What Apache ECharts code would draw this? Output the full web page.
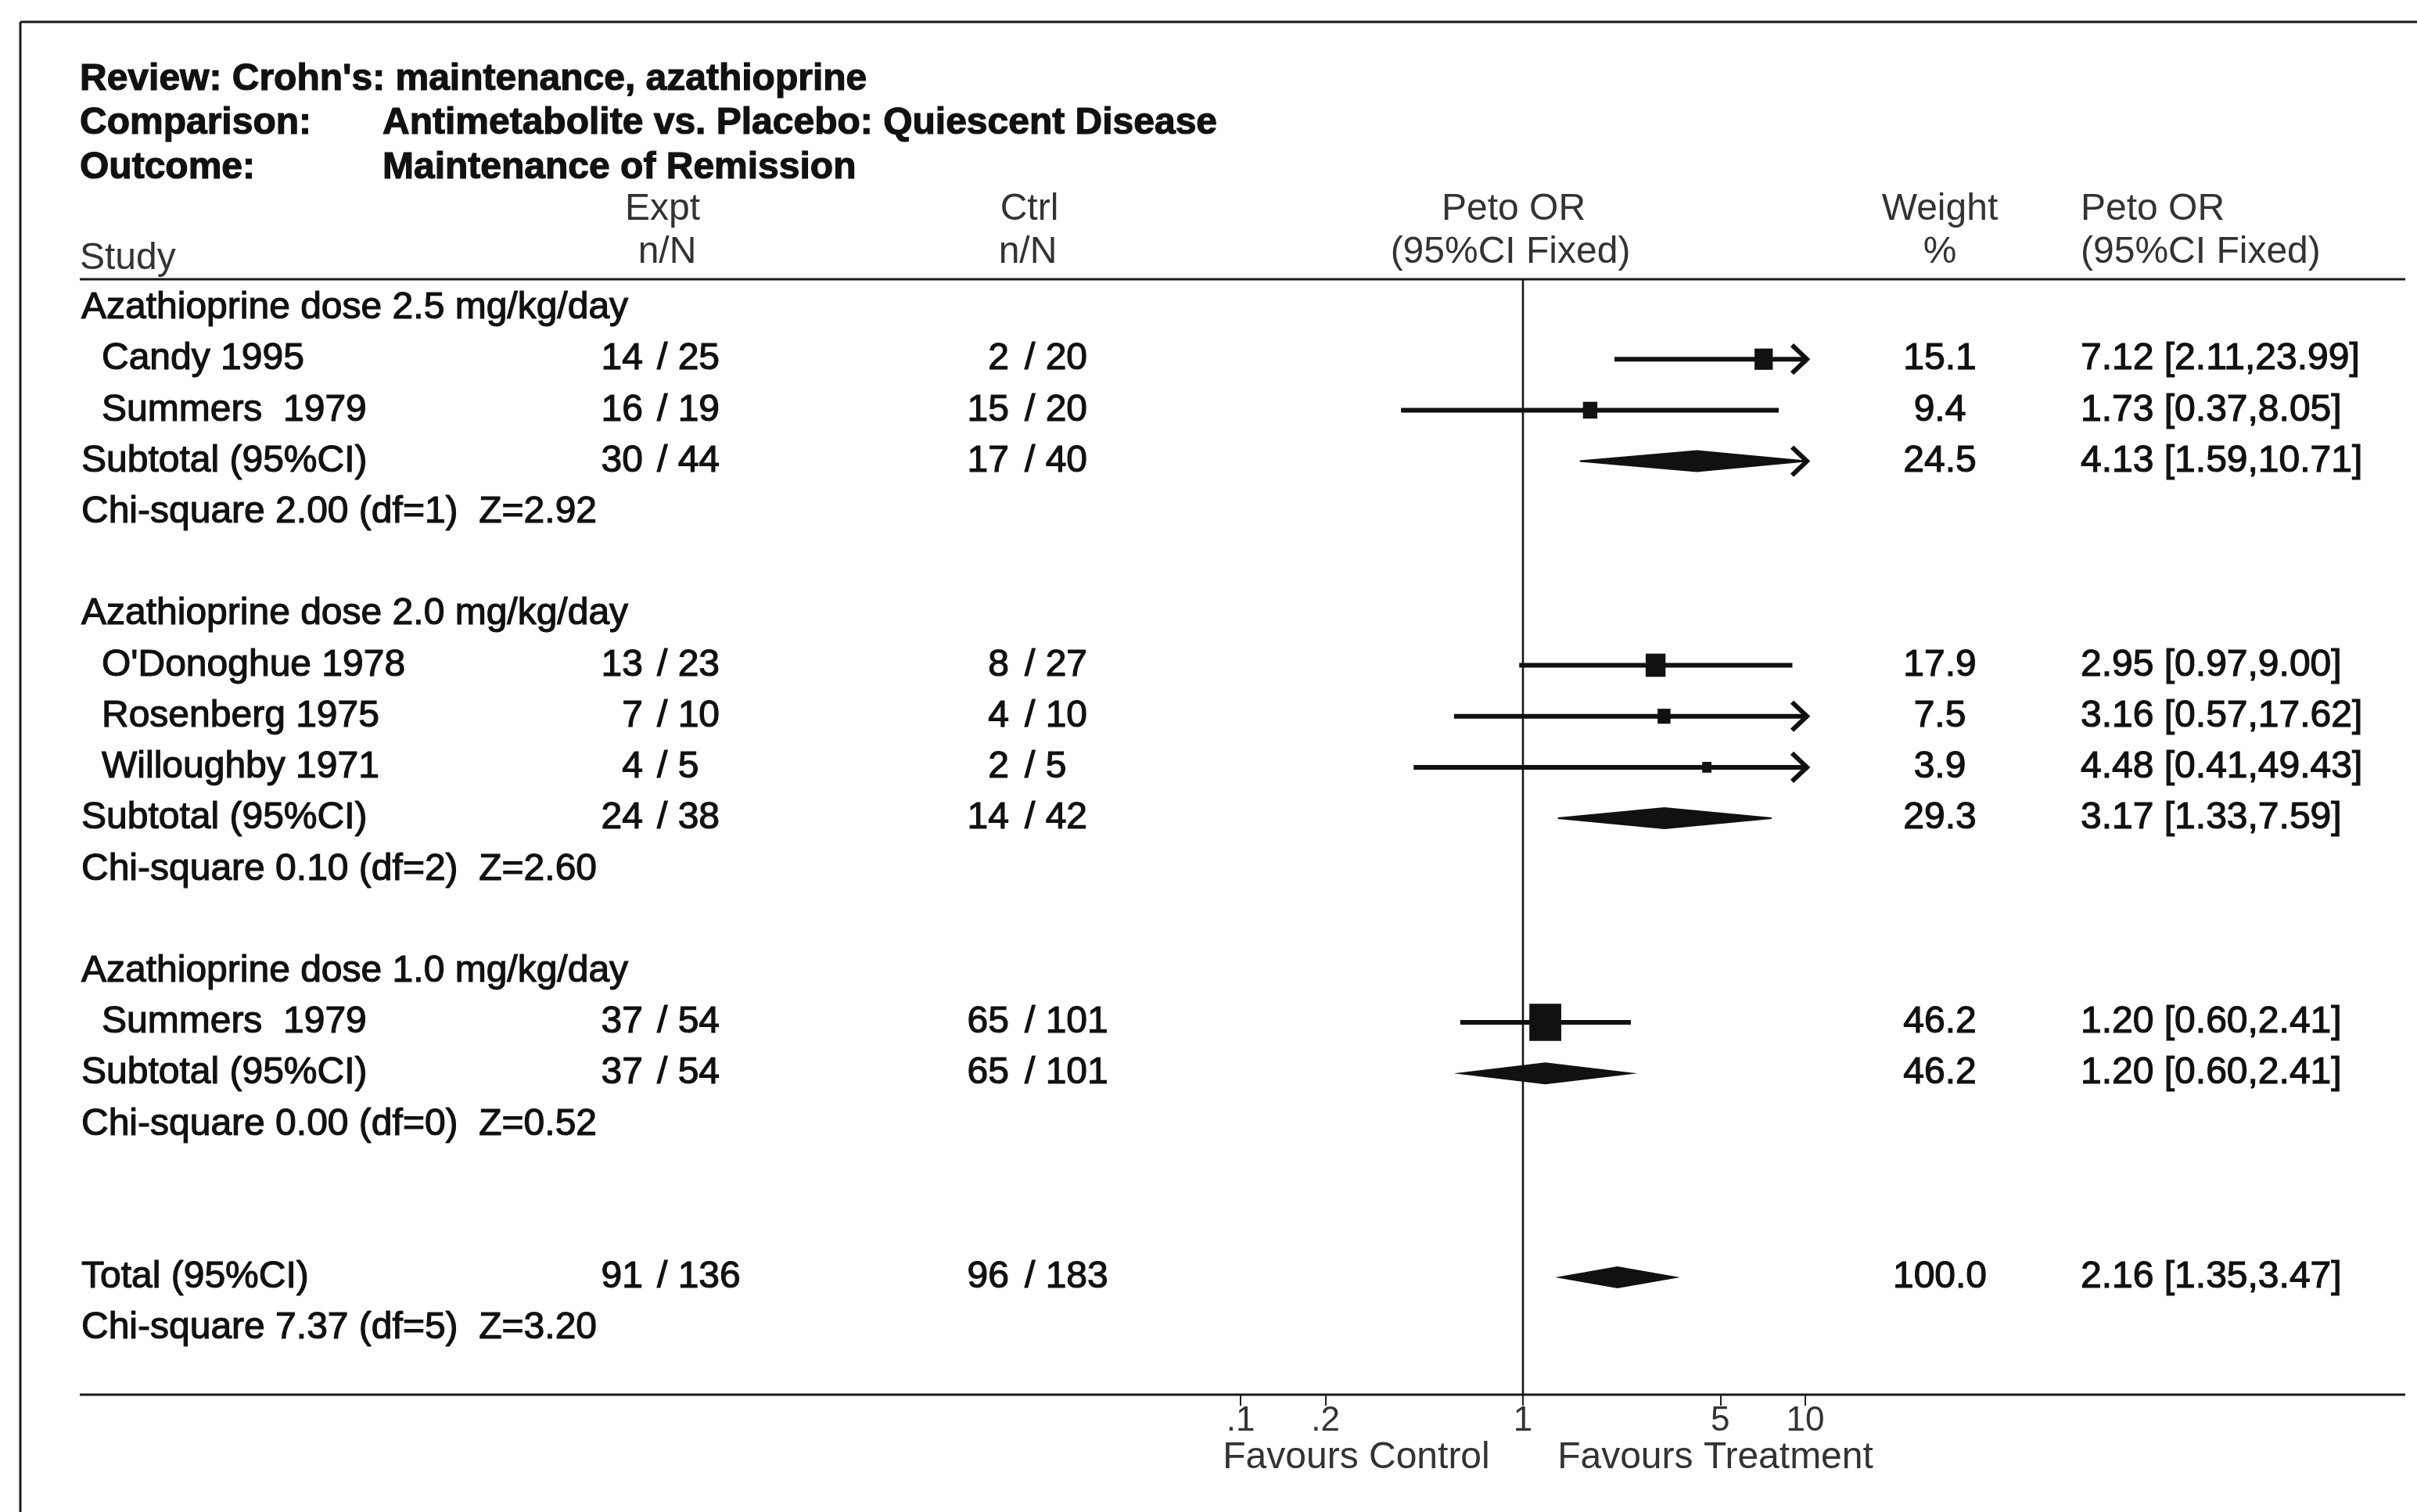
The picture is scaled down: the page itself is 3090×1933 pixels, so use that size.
<!DOCTYPE html>
<html>
<head>
<meta charset="utf-8">
<title>Crohn's: maintenance, azathioprine</title>
<script src="https://cdn.jsdelivr.net/npm/echarts@6/dist/echarts.min.js"></script>
<style>
  html, body { margin: 0; padding: 0; background: #fff; }
  #chart { width: 3090px; height: 1933px; }
</style>
</head>
<body>
<div id="chart"></div>
<script>
// rows of the table, top to bottom ('' = blank row)
const studyNames = [
  'Azathioprine dose 2.5 mg/kg/day', 'Candy 1995', 'Summers  1979', 'Subtotal (95%CI)', 'Chi-square 2.00 (df=1)  Z=2.92', '',
  'Azathioprine dose 2.0 mg/kg/day', "O'Donoghue 1978", 'Rosenberg 1975', 'Willoughby 1971', 'Subtotal (95%CI)', 'Chi-square 0.10 (df=2)  Z=2.60', '',
  'Azathioprine dose 1.0 mg/kg/day', 'Summers  1979', 'Subtotal (95%CI)', 'Chi-square 0.00 (df=0)  Z=0.52', '', '',
  'Total (95%CI)', 'Chi-square 7.37 (df=5)  Z=3.20'
];
const rowKinds = [
  'group', 'study', 'study', 'sub', 'stat', '',
  'group', 'study', 'study', 'study', 'sub', 'stat', '',
  'group', 'study', 'sub', 'stat', '', '',
  'sub', 'stat'
];
const exptEvents = [null, 14, 16, 30, null, null, null, 13, 7, 4, 24, null, null, null, 37, 37, null, null, null, 91, null];
const exptTotal  = [null, 25, 19, 44, null, null, null, 23, 10, 5, 38, null, null, null, 54, 54, null, null, null, 136, null];
const ctrlEvents = [null, 2, 15, 17, null, null, null, 8, 4, 2, 14, null, null, null, 65, 65, null, null, null, 96, null];
const ctrlTotal  = [null, 20, 20, 40, null, null, null, 27, 10, 5, 42, null, null, null, 101, 101, null, null, null, 183, null];
const weights    = [null, 15.1, 9.4, 24.5, null, null, null, 17.9, 7.5, 3.9, 29.3, null, null, null, 46.2, 46.2, null, null, null, 100.0, null];
const orPoint    = [null, 7.12, 1.73, 4.13, null, null, null, 2.95, 3.16, 4.48, 3.17, null, null, null, 1.20, 1.20, null, null, null, 2.16, null];
const orLow      = [null, 2.11, 0.37, 1.59, null, null, null, 0.97, 0.57, 0.41, 1.33, null, null, null, 0.60, 0.60, null, null, null, 1.35, null];
const orHigh     = [null, 23.99, 8.05, 10.71, null, null, null, 9.00, 17.62, 49.43, 7.59, null, null, null, 2.41, 2.41, null, null, null, 3.47, null];

// odds ratio axis (log scale)
const tickValues = [0.1, 0.2, 1, 5, 10];
const tickLabels = ['.1', '.2', '1', '5', '10'];

const FONT = 'Liberation Sans, Arial, Helvetica, sans-serif';
const INK = '#111';
const LMIN = Math.log10(tickValues[0]);
const LMAX = Math.log10(tickValues[tickValues.length - 1]);
const ROW_MIN = -0.567, ROW_MAX = 21.3;

const tableData = studyNames.map((_, i) => [0, i]);
const forestData = [];
orPoint.forEach((v, i) => {
  if (v == null) return;
  forestData.push([Math.log10(v), i, Math.log10(orLow[i]), Math.log10(orHigh[i]), weights[i], rowKinds[i] === 'study' ? 0 : 1]);
});

function txt(x, y, s, align) {
  return {
    type: 'text', x: x, y: y,
    style: {text: s, align: align, verticalAlign: 'middle', fontSize: 48, fontFamily: FONT, fill: INK,
      stroke: INK, lineWidth: 1.2}
  };
}

function renderRow(params, api) {
  const i = api.value(1);
  const y = api.coord([0, i])[1];
  const kind = rowKinds[i];
  const kids = [];
  if (studyNames[i]) kids.push(txt(kind === 'study' ? 130 : 104, y, studyNames[i], 'left'));
  if (exptEvents[i] != null) {
    kids.push(txt(822, y, String(exptEvents[i]), 'right'));
    kids.push(txt(840, y, '/ ' + exptTotal[i], 'left'));
    kids.push(txt(1290, y, String(ctrlEvents[i]), 'right'));
    kids.push(txt(1310, y, '/ ' + ctrlTotal[i], 'left'));
  }
  if (weights[i] != null) {
    kids.push(txt(2480, y, weights[i].toFixed(1), 'center'));
    kids.push(txt(2660, y, orPoint[i].toFixed(2) + ' [' + orLow[i].toFixed(2) + ',' + orHigh[i].toFixed(2) + ']', 'left'));
  }
  return {type: 'group', children: kids};
}

function renderForest(params, api) {
  const row = api.value(1);
  const p = api.coord([api.value(0), row]);
  const lo = api.coord([Math.max(api.value(2), LMIN), row]);
  const hi = api.coord([Math.min(api.value(3), LMAX), row]);
  const w = api.value(4);
  const kids = [];
  if (api.value(5) === 1) {
    const hh = 13;
    kids.push({
      type: 'polygon',
      shape: {points: [[lo[0], p[1]], [p[0], p[1] - hh], [hi[0], p[1]], [p[0], p[1] + hh]]},
      style: {fill: INK, stroke: INK, lineWidth: 2}
    });
  } else {
    kids.push({type: 'line', shape: {x1: lo[0], y1: p[1], x2: hi[0], y2: p[1]}, style: {stroke: INK, lineWidth: 6}});
    const bw = 6 * Math.sqrt(w), bh = 7 * Math.sqrt(w);
    kids.push({type: 'rect', shape: {x: p[0] - bw / 2, y: p[1] - bh / 2, width: bw, height: bh}, style: {fill: INK}});
  }
  if (api.value(3) > LMAX) {
    kids.push({
      type: 'polyline',
      shape: {points: [[hi[0] - 17, p[1] - 18], [hi[0] + 2, p[1]], [hi[0] - 17, p[1] + 18]]},
      style: {stroke: INK, lineWidth: 6, fill: null}
    });
  }
  return {type: 'group', children: kids};
}

function renderRef(params, api) {
  const a = api.coord([0, ROW_MIN]);
  const b = api.coord([0, ROW_MAX]);
  return {type: 'line', shape: {x1: a[0], y1: a[1], x2: b[0], y2: b[1]}, style: {stroke: INK, lineWidth: 2.5}};
}

function headText(x, y, s, align, bold) {
  return {
    type: 'text', x: x, y: y,
    style: {text: s, align: align, verticalAlign: 'middle', fontSize: 48, fontFamily: FONT,
      fontWeight: bold ? 'bold' : 'normal', fill: bold ? INK : '#333',
      stroke: bold ? INK : null, lineWidth: bold ? 1.2 : 0}
  };
}
function rule(x1, y1, x2, y2, lw) {
  return {type: 'line', shape: {x1: x1, y1: y1, x2: x2, y2: y2}, style: {stroke: '#1a1a1a', lineWidth: lw}};
}

const chart = echarts.init(document.getElementById('chart'));
chart.setOption({
  backgroundColor: '#fff',
  animation: false,
  grid: {left: 1586, width: 722, top: 357, height: 1426},
  xAxis: {
    type: 'value', min: LMIN, max: LMAX, position: 'bottom',
    axisLine: {show: false, onZero: false},
    splitLine: {show: false},
    axisTick: {show: true, customValues: tickValues.map(Math.log10), length: 14, lineStyle: {color: '#222', width: 2}},
    axisLabel: {
      customValues: tickValues.map(Math.log10), margin: 12, fontSize: 44, fontFamily: FONT, color: '#333',
      formatter: v => {
        const k = tickValues.findIndex(t => Math.abs(Math.log10(t) - v) < 1e-6);
        return k >= 0 ? tickLabels[k] : '';
      }
    }
  },
  yAxis: {type: 'value', inverse: true, min: ROW_MIN, max: ROW_MAX, show: false},
  series: [
    {type: 'custom', name: 'table', data: tableData, renderItem: renderRow, silent: true},
    {type: 'custom', name: 'ref', data: [[0, 0]], renderItem: renderRef, silent: true},
    {type: 'custom', name: 'Peto OR', data: forestData, renderItem: renderForest, silent: true}
  ],
  graphic: [
    rule(26, 28, 3090, 28, 3),
    rule(26, 28, 26, 1933, 3),
    rule(102, 357, 3075, 357, 3),
    rule(102, 1783, 3075, 1783, 3),
    headText(102, 102, "Review: Crohn's: maintenance, azathioprine", 'left', true),
    headText(102, 158, 'Comparison:', 'left', true),
    headText(489, 158, 'Antimetabolite vs. Placebo: Quiescent Disease', 'left', true),
    headText(102, 215, 'Outcome:', 'left', true),
    headText(489, 215, 'Maintenance of Remission', 'left', true),
    headText(102, 331, 'Study', 'left'),
    headText(847, 268, 'Expt', 'center'),
    headText(853, 323, 'n/N', 'center'),
    headText(1316, 268, 'Ctrl', 'center'),
    headText(1314, 323, 'n/N', 'center'),
    headText(1935, 268, 'Peto OR', 'center'),
    headText(1931, 323, '(95%CI Fixed)', 'center'),
    headText(2480, 268, 'Weight', 'center'),
    headText(2480, 323, '%', 'center'),
    headText(2660, 268, 'Peto OR', 'left'),
    headText(2660, 323, '(95%CI Fixed)', 'left'),
    headText(1734, 1864, 'Favours Control', 'center'),
    headText(2193, 1864, 'Favours Treatment', 'center')
  ]
});
</script>
</body>
</html>
